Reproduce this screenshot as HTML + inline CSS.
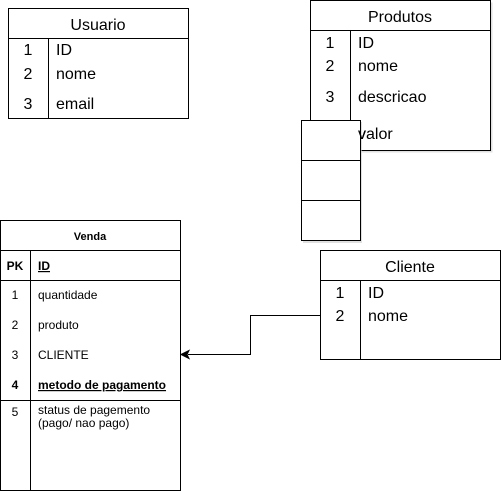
<!DOCTYPE html>
<html><head><meta charset="utf-8"><style>body{margin:0;background:#fff}svg{display:block}</style></head><body>
<svg width="501" height="491" xmlns="http://www.w3.org/2000/svg" font-family="Liberation Sans, sans-serif" fill="none">
<!-- Usuario -->
<rect x="8.5" y="8.5" width="180" height="110" stroke="#000" fill="#fff"/>
<line x1="8.5" y1="38.5" x2="188.5" y2="38.5" stroke="#000"/>
<line x1="48.5" y1="38.5" x2="48.5" y2="118.5" stroke="#000"/>
<g fill="#000" font-size="16">
<text x="98" y="30" text-anchor="middle">Usuario</text>
<text x="28" y="55" text-anchor="middle">1</text><text x="56" y="55">ID</text>
<text x="28" y="79" text-anchor="middle">2</text><text x="56" y="79">nome</text>
<text x="28" y="109" text-anchor="middle">3</text><text x="56" y="109">email</text>
</g>
<!-- Produtos -->
<rect x="312.5" y="2.5" width="180" height="150" fill="#ccc" stroke="none" opacity="0.6"/>
<rect x="310.5" y="0.5" width="180" height="150" stroke="#000" fill="#fff"/>
<line x1="310.5" y1="30.5" x2="490.5" y2="30.5" stroke="#000"/>
<line x1="350.5" y1="30.5" x2="350.5" y2="120" stroke="#000"/>
<g fill="#000" font-size="16">
<text x="400" y="22" text-anchor="middle">Produtos</text>
<text x="330" y="48" text-anchor="middle">1</text><text x="358" y="48">ID</text>
<text x="330" y="71" text-anchor="middle">2</text><text x="358" y="71">nome</text>
<text x="330" y="102" text-anchor="middle">3</text><text x="358" y="102">descricao</text>
<text x="358" y="139">valor</text>
</g>
<rect x="303" y="122" width="59" height="121" fill="#ccc" stroke="none" opacity="0.6"/>
<rect x="301.5" y="120.5" width="59" height="120" stroke="#000" fill="#fff"/>
<line x1="301.5" y1="160.5" x2="360.5" y2="160.5" stroke="#000"/>
<line x1="301.5" y1="200.5" x2="360.5" y2="200.5" stroke="#000"/>
<text x="358" y="139" fill="#000" font-size="16">v</text>
<!-- Venda -->
<rect x="0.5" y="220.5" width="180" height="270" stroke="#000" fill="#fff"/>
<line x1="0.5" y1="250.5" x2="180.5" y2="250.5" stroke="#000"/>
<line x1="0.5" y1="280.5" x2="180.5" y2="280.5" stroke="#000"/>
<line x1="0.5" y1="400.5" x2="180.5" y2="400.5" stroke="#000"/>
<line x1="30.5" y1="250.5" x2="30.5" y2="490.5" stroke="#000"/>
<g fill="#000" font-size="12">
<text x="90" y="240" text-anchor="middle" font-weight="bold" font-size="11">Venda</text>
<text x="15" y="270" text-anchor="middle" font-weight="bold">PK</text><text x="38" y="270" font-weight="bold" text-decoration="underline">ID</text>
<text x="15" y="299" text-anchor="middle">1</text><text x="38" y="299">quantidade</text>
<text x="15" y="329" text-anchor="middle">2</text><text x="38" y="329">produto</text>
<text x="15" y="359" text-anchor="middle">3</text><text x="38" y="359">CLIENTE</text>
<text x="15" y="389" text-anchor="middle" font-weight="bold">4</text><text x="38" y="389" font-weight="bold" text-decoration="underline">metodo de pagamento</text>
<text x="15" y="416" text-anchor="middle">5</text><text x="38" y="414">status de pagemento</text><text x="38" y="427">(pago/ nao pago)</text>
</g>
<!-- Cliente -->
<rect x="320.5" y="250.5" width="180" height="109" stroke="#000" fill="#fff"/>
<line x1="320.5" y1="280.5" x2="500.5" y2="280.5" stroke="#000"/>
<line x1="360.5" y1="280.5" x2="360.5" y2="359.5" stroke="#000"/>
<g fill="#000" font-size="16">
<text x="410" y="272" text-anchor="middle">Cliente</text>
<text x="340" y="298" text-anchor="middle">1</text><text x="368" y="298">ID</text>
<text x="340" y="321" text-anchor="middle">2</text><text x="368" y="321">nome</text>
</g>
<!-- connector -->
<polyline points="320,315.5 250.5,315.5 250.5,354.5 188,354.5" stroke="#000"/>
<polygon points="181,354.5 189,350.5 187,354.5 189,358.5" fill="#000" stroke="#000"/>
</svg>
</body></html>
